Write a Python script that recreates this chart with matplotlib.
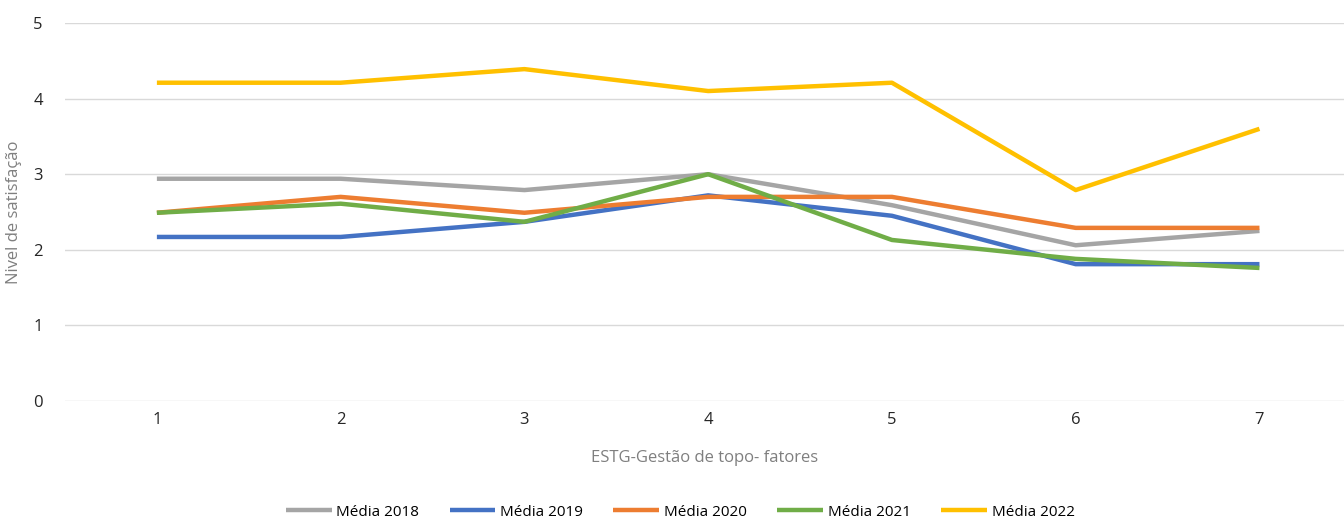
import matplotlib.pyplot as plt

plt.rcParams['font.family'] = ['Open Sans', 'DejaVu Sans']

fatores = [1, 2, 3, 4, 5, 6, 7]
media_2018 = [2.94, 2.94, 2.79, 3.00, 2.59, 2.06, 2.25]
media_2019 = [2.17, 2.17, 2.37, 2.72, 2.45, 1.81, 1.81]
media_2020 = [2.49, 2.70, 2.49, 2.70, 2.70, 2.29, 2.29]
media_2021 = [2.49, 2.61, 2.37, 3.00, 2.13, 1.88, 1.76]
media_2022 = [4.21, 4.21, 4.39, 4.10, 4.21, 2.79, 3.60]

series = [
    ("Média 2018", media_2018, "#a5a5a5"),
    ("Média 2019", media_2019, "#4472c4"),
    ("Média 2020", media_2020, "#ed7d31"),
    ("Média 2021", media_2021, "#70ad47"),
    ("Média 2022", media_2022, "#ffc000"),
]

fig = plt.figure(figsize=(13.44, 5.2), dpi=100)
ax = fig.add_axes([65 / 1344, 1 - 401 / 520, (1344 - 65) / 1344, 378 / 520])

for label, vals, color in series:
    ax.plot(fatores, vals, color=color, linewidth=3.2, label=label, solid_capstyle='butt')

ax.set_xlim(0.5, 7.46)
ax.set_ylim(0, 5)
ax.set_yticks(range(6))
ax.set_xticks(fatores)
ax.grid(axis='y', color='#d9d9d9', linewidth=1)
ax.set_axisbelow(True)
for s in ax.spines.values():
    s.set_visible(False)
ax.tick_params(length=0, labelsize=12, colors='#262626', pad=8)
ax.tick_params(axis='y', pad=16)

ax.set_xlabel("ESTG-Gestão de topo- fatores", fontsize=12, color='#7f7f7f', labelpad=16)
ax.set_ylabel("Nivel de satisfação", fontsize=12, color='#7f7f7f', labelpad=8)

ax.legend(loc='center', bbox_to_anchor=(0.481, -0.294), ncol=5, frameon=False,
          fontsize=11, handlelength=3, handletextpad=0.3, columnspacing=2.0)

fig.savefig("out.png", dpi=100)
